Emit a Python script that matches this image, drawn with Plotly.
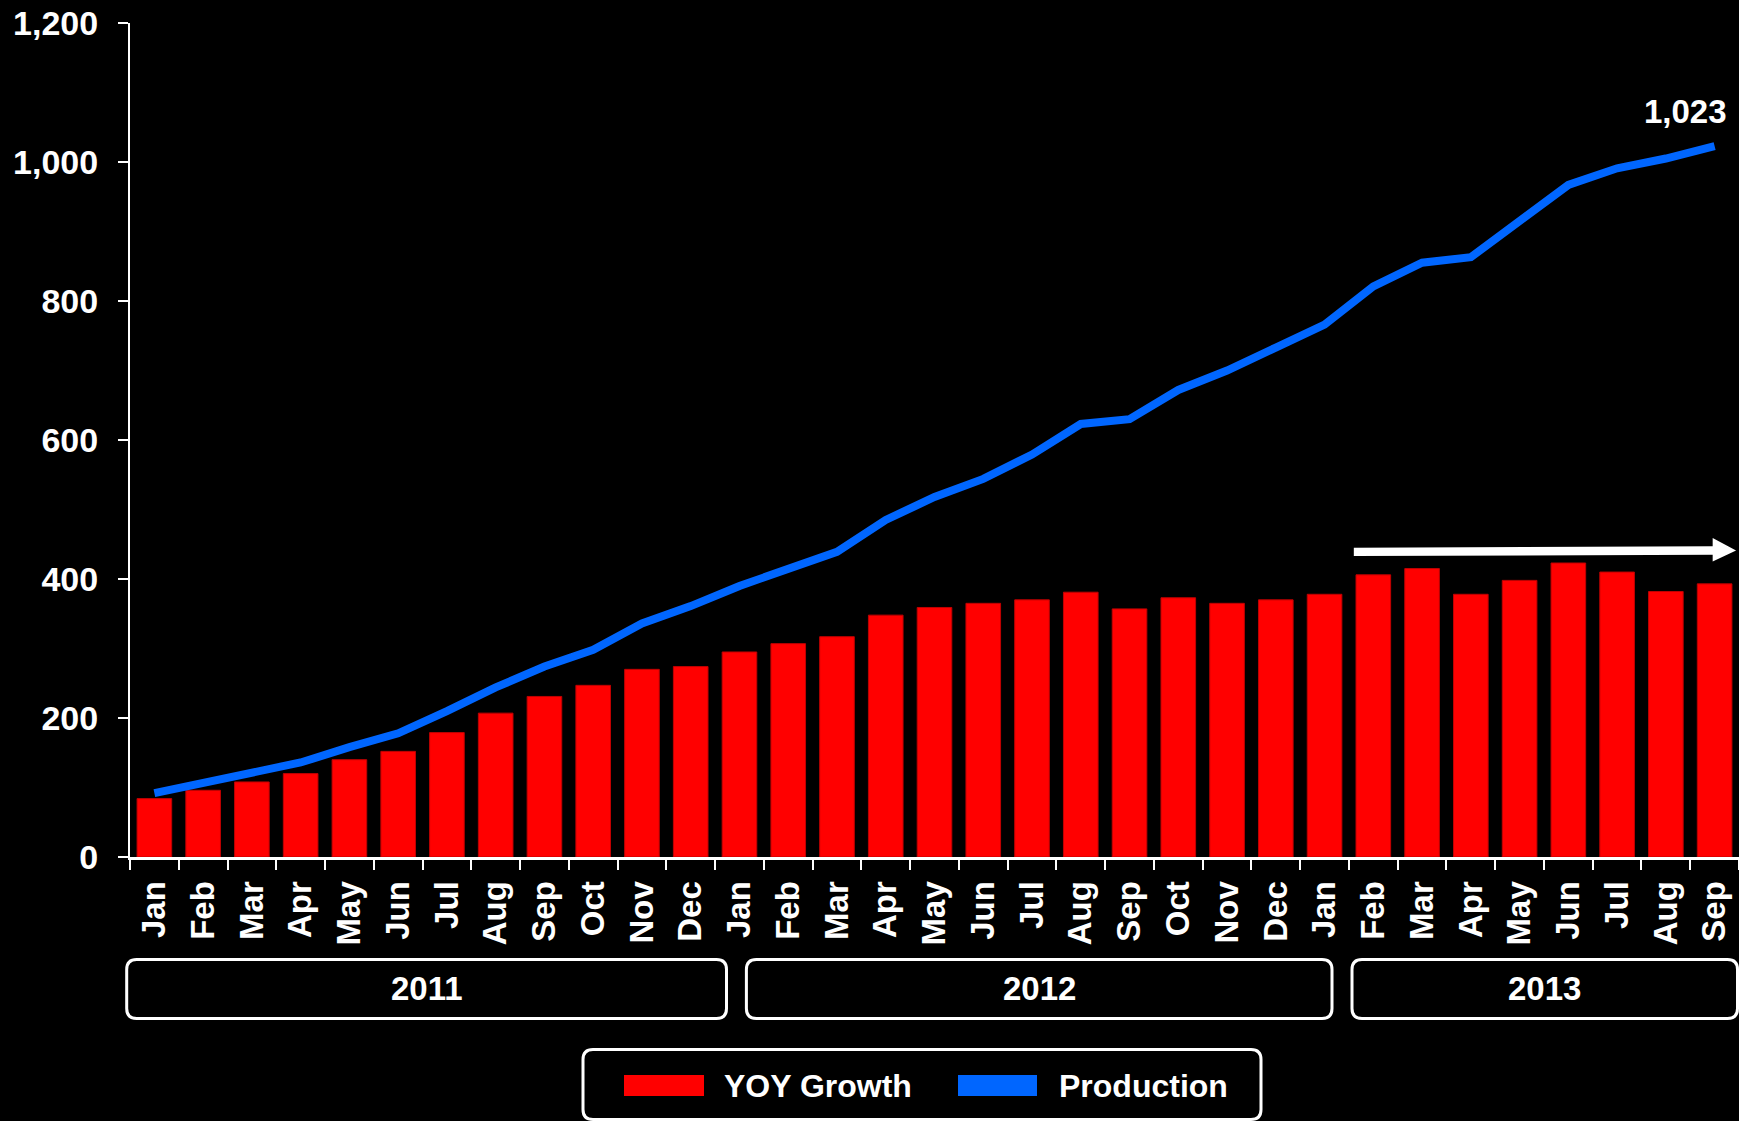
import plotly.graph_objects as go

# ---------------- data ----------------
month_labels = ["Jan", "Feb", "Mar", "Apr", "May", "Jun", "Jul", "Aug", "Sep", "Oct", "Nov", "Dec",
                "Jan", "Feb", "Mar", "Apr", "May", "Jun", "Jul", "Aug", "Sep", "Oct", "Nov", "Dec",
                "Jan", "Feb", "Mar", "Apr", "May", "Jun", "Jul", "Aug", "Sep"]
years = ["2011", "2012", "2013"]
yoy_growth = [84, 96, 108, 120, 140, 152, 179, 207, 231, 247, 270, 274,
              295, 307, 317, 348, 359, 365, 370, 381, 357, 373, 365, 370,
              378, 406, 415, 378, 398, 423, 410, 382, 393]
production = [92, 106, 122, 136, 158, 178, 210, 244, 274, 298, 336, 361,
              390, 414, 439, 485, 518, 544, 579, 623, 630, 672, 700, 733,
              766, 821, 855, 863, 915, 967, 991, 1005, 1023]
y_ticks = [0, 200, 400, 600, 800, 1000, 1200]
series_names = ["YOY Growth", "Production"]

x_idx = list(range(len(month_labels)))

RED = "#FF0000"
BLUE = "#0066FF"
FONT = "Liberation Sans, Arial, sans-serif"

fig = go.Figure()
fig.add_trace(go.Bar(
    x=x_idx, y=yoy_growth, name=series_names[0],
    marker=dict(color=RED, line=dict(color="#C00000", width=1)),
    showlegend=False,
))
fig.add_trace(go.Scatter(
    x=x_idx, y=production, name=series_names[1], mode="lines",
    line=dict(color=BLUE, width=8), showlegend=False,
))

# ---------------- helpers ----------------
W, H = 1739, 1121
L, R, T, B = 130, 0, 23, 264
PW, PH = W - L - R, H - T - B


def px_x(p):
    return (p - L) / PW


def px_y(p):
    return (H - B - p) / PH


def rrect(x0p, y0p, x1p, y1p, r=10):
    """rounded rect path in paper coords from pixel coords (y0p top, y1p bottom)"""
    x0, x1 = px_x(x0p), px_x(x1p)
    yt, yb = px_y(y0p), px_y(y1p)
    rx, ry = r / PW, r / PH
    return (f"M {x0+rx},{yt} L {x1-rx},{yt} Q {x1},{yt} {x1},{yt-ry} "
            f"L {x1},{yb+ry} Q {x1},{yb} {x1-rx},{yb} L {x0+rx},{yb} "
            f"Q {x0},{yb} {x0},{yb+ry} L {x0},{yt-ry} Q {x0},{yt} {x0+rx},{yt} Z")


shapes = []
annotations = []

# year boxes
year_boxes = [(126.7, 726.5), (746.4, 1332), (1352, 1737.5)]
for (bx0, bx1), yr in zip(year_boxes, years):
    shapes.append(dict(type="path", xref="paper", yref="paper",
                       path=rrect(bx0, 959.5, bx1, 1018.5),
                       line=dict(color="white", width=3), fillcolor="rgba(0,0,0,0)"))
    annotations.append(dict(xref="paper", yref="paper", x=px_x((bx0 + bx1) / 2), y=px_y(989),
                            text=yr, showarrow=False, xanchor="center", yanchor="middle",
                            font=dict(family=FONT, size=33, color="white", weight="bold")))

# legend box
shapes.append(dict(type="path", xref="paper", yref="paper",
                   path=rrect(583, 1049.5, 1261, 1119.5),
                   line=dict(color="white", width=3), fillcolor="rgba(0,0,0,0)"))
legend_items = [(624, 704, 722, RED, series_names[0]), (958, 1037, 1057, BLUE, series_names[1])]
for sx0, sx1, tx, col, name in legend_items:
    shapes.append(dict(type="rect", xref="paper", yref="paper",
                       x0=px_x(sx0), x1=px_x(sx1), y0=px_y(1075), y1=px_y(1096),
                       line=dict(width=0), fillcolor=col))
    annotations.append(dict(xref="paper", yref="paper", x=px_x(tx), y=px_y(1086),
                            text=name, showarrow=False, xanchor="left", yanchor="middle",
                            font=dict(family=FONT, size=32, color="white", weight="bold")))

# trend arrow (data coords)
ax0, axh, axt = 24.6, 31.96, 32.44
shapes.append(dict(type="path", xref="x", yref="y",
                   path=(f"M {ax0},{433} L {axh},{435} L {axh},{425} L {axt},{441} "
                         f"L {axh},{459} L {axh},{447} L {ax0},{445} Z"),
                   line=dict(width=0), fillcolor="white"))

# end value label
annotations.append(dict(xref="x", yref="y", x=x_idx[-1], y=production[-1],
                        text=f"{production[-1]:,}", showarrow=False,
                        xanchor="right", yanchor="middle", xshift=14, yshift=35,
                        font=dict(family=FONT, size=33, color="white", weight="bold")))

fig.update_layout(
    width=W, height=H,
    margin=dict(l=L, r=R, t=T, b=B, pad=0),
    paper_bgcolor="black", plot_bgcolor="black",
    bargap=0.29,
    showlegend=False,
    shapes=shapes,
    annotations=annotations,
    font=dict(family=FONT, color="white"),
    xaxis=dict(
        range=[-0.5, len(month_labels) - 0.5],
        tickmode="array", tickvals=x_idx, ticktext=month_labels,
        tickangle=-90, ticks="", ticklabelstandoff=8,
        tickfont=dict(family=FONT, size=33, color="white", weight="bold"),
        showline=True, linecolor="white", linewidth=3,
        showgrid=False, zeroline=False,
        minor=dict(tickmode="linear", tick0=-0.5, dtick=1, ticks="outside",
                   ticklen=10, tickwidth=2, tickcolor="white", showgrid=False),
    ),
    yaxis=dict(
        range=[0, 1200], tickmode="array", tickvals=y_ticks,
        tickformat=",", ticks="outside", ticklen=10, tickwidth=2, tickcolor="white",
        ticklabelstandoff=13,
        tickfont=dict(family=FONT, size=34, color="white", weight="bold"),
        showline=True, linecolor="white", linewidth=2,
        showgrid=False, zeroline=False,
    ),
)

fig.write_html("out.html")
